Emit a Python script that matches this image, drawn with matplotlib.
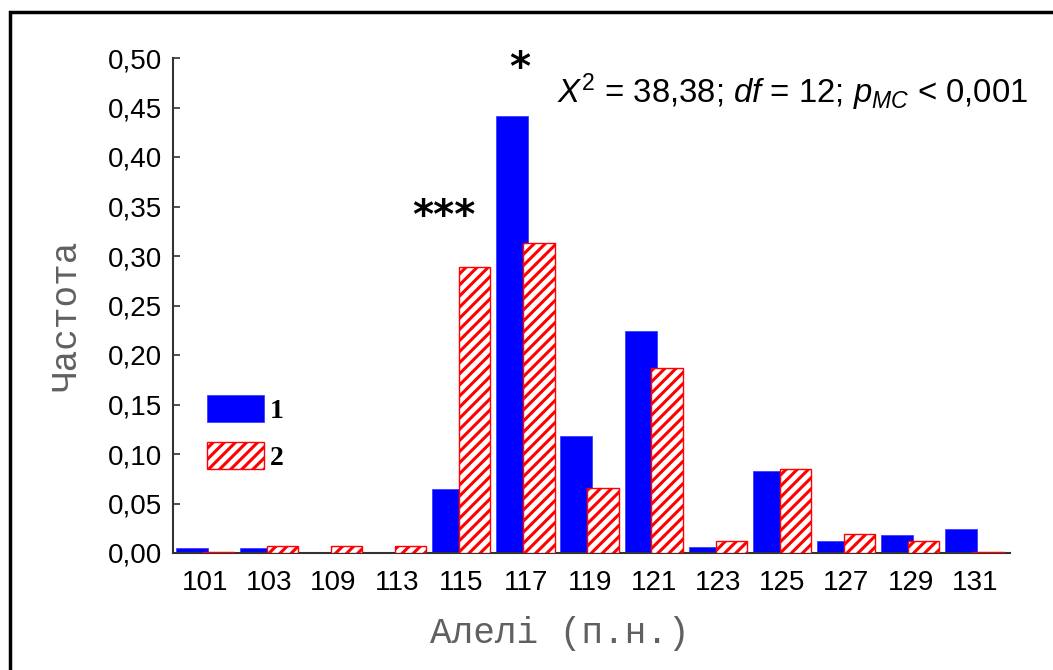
import numpy as np
import matplotlib
matplotlib.use("Agg")
import matplotlib.pyplot as plt
from matplotlib.patches import Rectangle
from matplotlib.ticker import FuncFormatter

# alleles (bp) and frequencies for the two groups
alleles = ["101", "103", "109", "113", "115", "117", "119", "121", "123", "125", "127", "129", "131"]
freq_1 = [0.005, 0.005, 0.001, 0.001, 0.065, 0.441, 0.118, 0.224, 0.006, 0.083, 0.012, 0.018, 0.024]
freq_2 = [0.001, 0.007, 0.007, 0.007, 0.289, 0.313, 0.066, 0.187, 0.012, 0.085, 0.019, 0.012, 0.001]
yticks = [0.0, 0.05, 0.10, 0.15, 0.20, 0.25, 0.30, 0.35, 0.40, 0.45, 0.50]
# significance marks: allele, text, x offset, height
stars = [("115", "***", -0.28, 0.339), ("117", "*", -0.10, 0.489)]

plt.rcParams['font.family'] = ['Liberation Sans', 'DejaVu Sans']
plt.rcParams['hatch.linewidth'] = 2.2
plt.rcParams['mathtext.fontset'] = 'custom'
plt.rcParams['mathtext.rm'] = 'Liberation Sans'
plt.rcParams['mathtext.it'] = 'Liberation Sans:italic'

fig = plt.figure(figsize=(10.53, 6.70), dpi=100)
ax = fig.add_axes([173/1053, 1-553/670, 837/1053, 495/670])

x = np.arange(len(alleles))
ax.bar(x - 0.46, freq_1, width=0.50, align='edge', color='#0000FF',
       edgecolor='#3030FF', linewidth=0.5, label='1', zorder=2)
ax.bar(x - 0.04, freq_2, width=0.49, align='edge', color='white',
       edgecolor='#FF0000', hatch='///', linewidth=1.0, label='2', zorder=3)

ax.set_xlim(-0.5, len(alleles) - 0.45)
ax.set_ylim(0, 0.5)
ax.set_xticks(x)
ax.set_xticklabels(alleles)
ax.set_yticks(yticks)
ax.yaxis.set_major_formatter(FuncFormatter(lambda v, p: ('%.2f' % v).replace('.', ',')))
ax.tick_params(axis='y', direction='in', length=5, width=1.2, labelsize=20, pad=8, color='#333333')
ax.tick_params(axis='x', length=0, labelsize=20, pad=12)

for s in ['top', 'right']:
    ax.spines[s].set_visible(False)
for s in ['left', 'bottom']:
    ax.spines[s].set_linewidth(1.5)
    ax.spines[s].set_color('#333333')

ax.set_ylabel("Частота", family=['Liberation Mono', 'DejaVu Sans Mono'], fontsize=26,
              color='#606060')
ax.set_xlabel("Алелі (п.н.)", family=['Liberation Mono', 'DejaVu Sans Mono'], fontsize=26,
              color='#606060')
ax.yaxis.set_label_coords(-90/837, 0.48)
ax.xaxis.set_label_coords(387/837, -63/495)

for k, s, dx, h in stars:
    i = alleles.index(k)
    ax.text(i + dx, h, s, ha='center', va='center', fontsize=29, fontweight='bold',
            family='DejaVu Sans', color='black')

ax.text(384/837, 1 - 34/495, r'$X^2$ = 38,38; $df$ = 12; $p_{MC}$ < 0,001', transform=ax.transAxes,
        fontsize=23.7, ha='left', va='center')

leg = ax.legend(loc='upper left', bbox_to_anchor=(0.011, 0.370), frameon=False,
                prop={'family': 'Liberation Serif', 'weight': 'bold', 'size': 20},
                handlelength=2.05, handleheight=1.15, labelspacing=0.63, handletextpad=0.2)
for t in leg.get_texts():
    t.set_va('baseline')

# outer frame
fig.patches.append(Rectangle((10/1053, -0.1), 1.2, 1.1 - 12/670, transform=fig.transFigure,
                             fill=False, edgecolor='black', linewidth=2.5))

fig.savefig('out.png', dpi=100)
